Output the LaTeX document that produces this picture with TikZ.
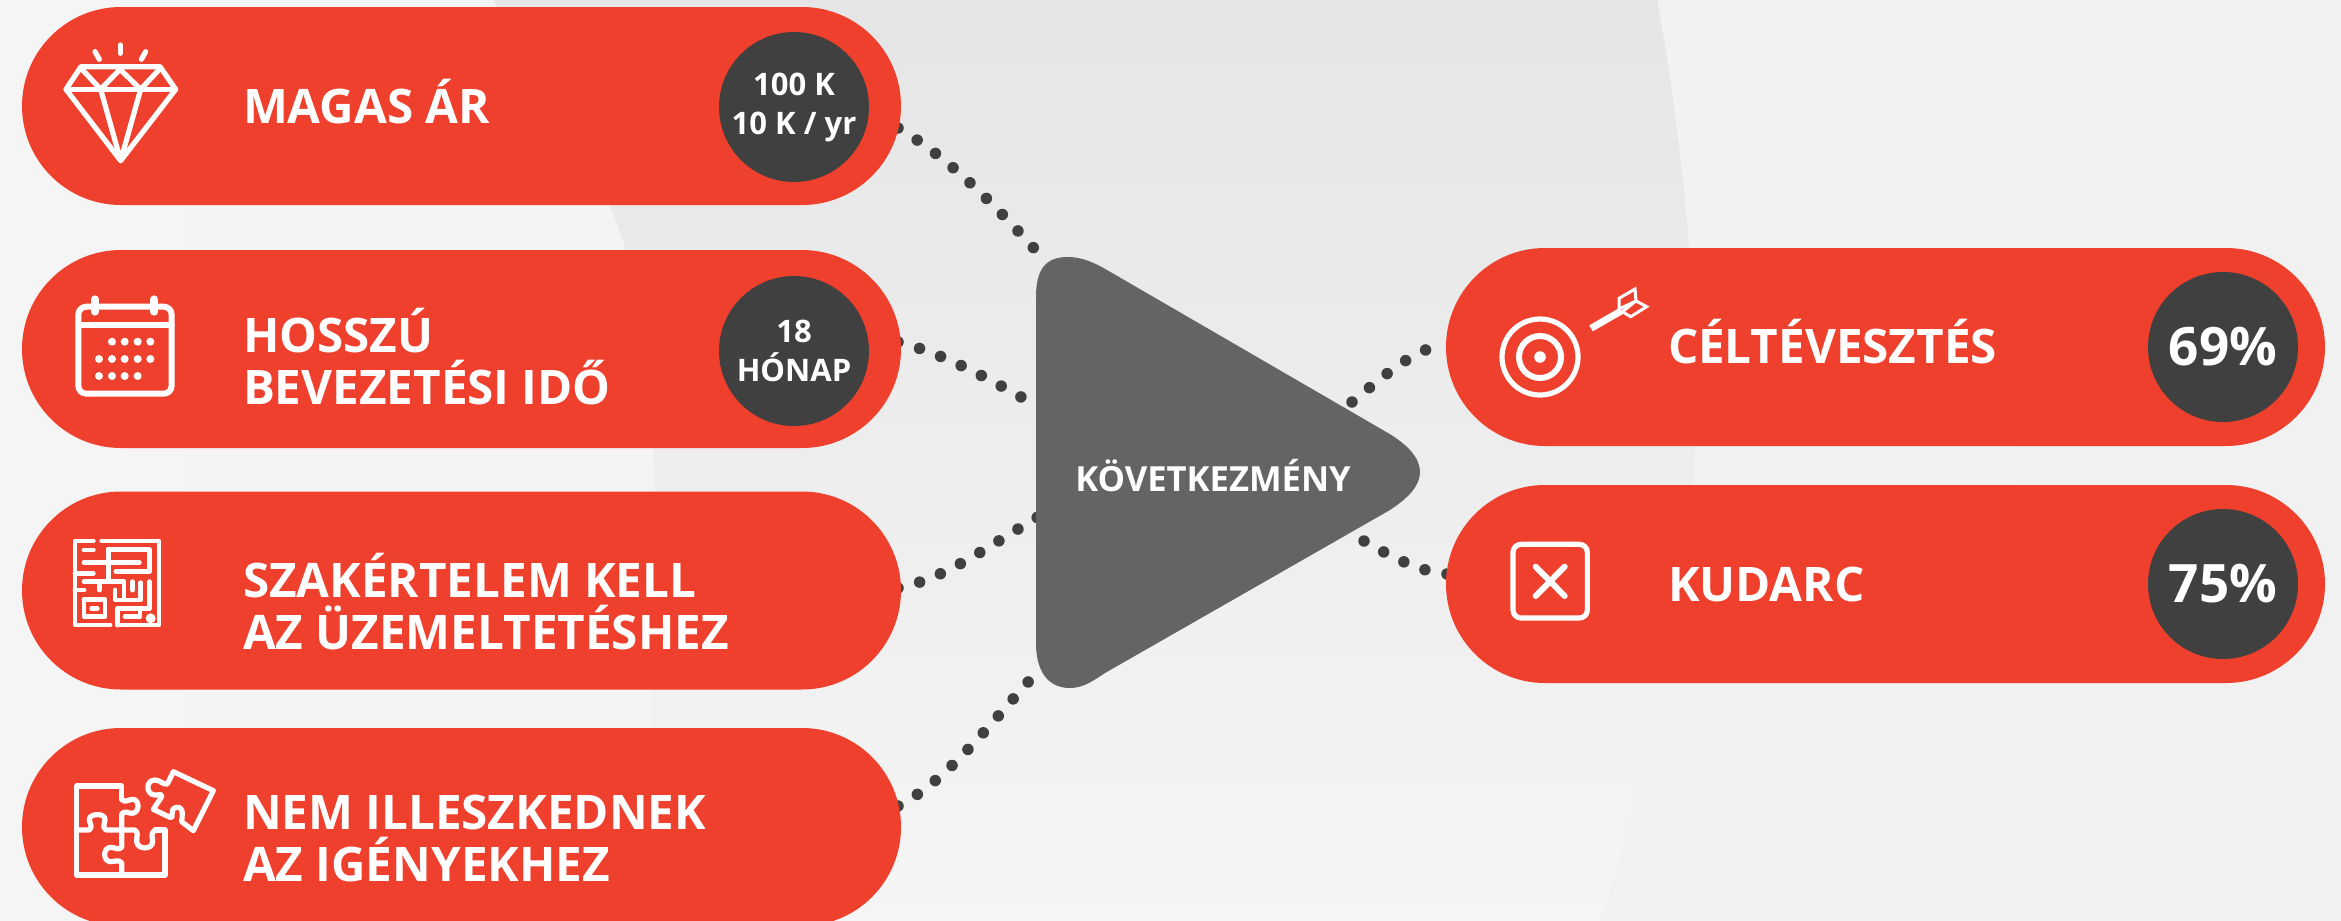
\documentclass[tikz,border=0pt]{standalone}
\usepackage{fontspec}
\setmainfont{Open Sans}
\usetikzlibrary{calc}
\definecolor{pillred}{HTML}{EE402C}
\definecolor{darkdisc}{HTML}{404040}
\definecolor{trigrey}{HTML}{636466}
\pgfdeclarelayer{backdrop}
\pgfdeclarelayer{links}
\pgfsetlayers{backdrop,links,main}
\tikzset{
  pill/.style={fill=pillred,rounded corners=49.5pt,minimum width=439.5pt,minimum height=99pt,inner sep=0pt,outer sep=0pt},
  disc/.style={circle,fill=darkdisc,text=white,minimum size=75pt,inner sep=0pt,outer sep=0pt,font=\bfseries\fontsize{15.5}{19.5}\selectfont,align=center},
  bigdisc/.style={disc,font=\bfseries\fontsize{26.5}{30}\selectfont},
  lab/.style={text=white,inner sep=0pt,outer sep=0pt,align=left,font=\bfseries\fontsize{23.8}{26}\selectfont},
  dotlink/.style={line width=5.75pt,line cap=round,draw=darkdisc,dash pattern=on 0pt off #1},
  ico/.style={draw=white,line width=2.6pt,line cap=round,line join=round,fill=none},
  icon3/.style={x=0.166667pt,y=-0.166667pt}
}
\begin{document}
\begin{tikzpicture}[x=0.5pt,y=-0.5pt]
\useasboundingbox (0,0) rectangle (2341,921);
% triangle
\fill[trigrey] (1036,297) .. controls (1036,270) and (1045,257) .. (1068,257) .. controls (1082,257) and (1095,263) .. (1107,270) -- (1388,433) .. controls (1408,445) and (1420,458) .. (1420,472) .. controls (1420,486) and (1408,498) .. (1390,510) -- (1105,673) .. controls (1093,681) and (1083,688) .. (1070,688) .. controls (1047,688) and (1036,670) .. (1036,643) -- cycle;
\node[text=white,inner sep=0pt,font=\bfseries\fontsize{17.3}{20}\selectfont] (tri) at (1213,476) {KÖVETKEZMÉNY};
% pills
\node[pill] (p1) at (461.5,106) {};
\node[pill] (p2) at (461.5,349) {};
\node[pill] (p3) at (461.5,590.5) {};
\node[pill] (p4) at (461.5,827) {};
\node[pill] (q1) at (1885.5,347) {};
\node[pill] (q2) at (1885.5,584) {};
% discs
\node[disc] (d1) at (794,107) {100 K\\10 K / yr};
\node[disc] (d2) at (794,351) {18\\HÓNAP};
\node[bigdisc] (d3) at (2223,347) {69\%};
\node[bigdisc] (d4) at (2223,584) {75\%};
% labels
\node[lab,anchor=base west] (l1) at (243,123) {MAGAS ÁR};
\node[lab,anchor=west] (l2) at (243,357) {HOSSZÚ\\BEVEZETÉSI IDŐ};
\node[lab,anchor=west] (l3) at (243,602) {SZAKÉRTELEM KELL\\AZ ÜZEMELTETÉSHEZ};
\node[lab,anchor=west] (l4) at (243,838) {NEM ILLESZKEDNEK\\AZ IGÉNYEKHEZ};
\node[lab,anchor=base west] (l5) at (1668,363) {CÉLTÉVESZTÉS};
\node[lab,anchor=base west] (l6) at (1668,601) {KUDARC};
% background and connectors
\begin{pgfonlayer}{backdrop}
\shade[left color=black!4,right color=black!5.5] (0,0) rectangle (2341,921);
\shade[top color=black!10,middle color=black!8,bottom color=black!4] (493,0) .. controls (560,100) and (615,190) .. (640,300) .. controls (660,400) and (660,600) .. (640,921) -- (1600,921) .. controls (1640,800) and (1697,560) .. (1697,400) .. controls (1697,300) and (1680,120) .. (1657,0) -- cycle;
\end{pgfonlayer}
\begin{pgfonlayer}{links}
\draw[dotlink=11.33pt] ($(p1.east)+(-3,22)$) .. controls ($(p1.east)+(49,52)$) and ($(tri.center)+(-213,-266)$) .. ($(tri.center)+(-165,-212)$);
\draw[dotlink=11.25pt] ($(p2.east)+(-3,-7)$) .. controls ($(p2.east)+(37,3)$) and ($(tri.center)+(-233,-102)$) .. ($(tri.center)+(-192,-79)$);
\draw[dotlink=11.2pt] ($(p3.east)+(-3,-2.5)$) .. controls ($(p3.east)+(44,-11.5)$) and ($(tri.center)+(-223,69)$) .. ($(tri.center)+(-175,41)$);
\draw[dotlink=11.3pt] ($(p4.east)+(-3,-21)$) .. controls ($(p4.east)+(44,-45)$) and ($(tri.center)+(-228,254)$) .. ($(tri.center)+(-184,205)$);
\draw[dotlink=11.3pt] ($(tri.center)+(139,-74)$) .. controls ($(tri.center)+(172,-101)$) and ($(q1.west)+(-31,1)$) .. ($(q1.west)+(1,-3)$);
\draw[dotlink=11.25pt] ($(tri.center)+(151,65)$) .. controls ($(tri.center)+(179,81)$) and ($(q2.west)+(-26,-12)$) .. ($(q2.west)+(1,-10)$);
\end{pgfonlayer}
% diamond icon
\begin{scope}[shift={(0,0)},icon3]
\draw[ico] (243,200) -- (480,200) -- (527,268) -- (362,482) -- (198,268) -- cycle;
\draw[ico] (198,268) -- (527,268);
\draw[ico] (246,208) -- (302,268) -- (360,208) -- (422,268) -- (478,208);
\draw[ico] (302,268) -- (362,482) -- (422,268);
\draw[ico] (285,155) -- (298,178);
\draw[ico] (361,135) -- (361,160);
\draw[ico] (437,155) -- (424,178);
\end{scope}
% calendar icon
\begin{scope}[shift={(0,0)},icon3]
\draw[ico,line width=3pt,rounded corners=4pt] (235,920) rectangle (515,1181);
\draw[ico,line width=3pt] (235,974) -- (515,974);
\draw[ico,line width=4pt] (285,898) -- (285,935);
\draw[ico,line width=4pt] (463,898) -- (463,935);
\foreach \px/\py in {336/1025,374/1025,413/1025,451/1025,297/1077,336/1077,374/1077,413/1077,451/1077,297/1128,336/1128,374/1128,413/1128}
  \fill[white] (\px,\py) circle[radius=2pt];
\end{scope}
% maze icon
\begin{scope}[shift={(60,510)},icon3]
\tikzset{mz/.style={draw=white,line width=2.4pt,line cap=round,line join=round}}
\draw[mz] (100,93) -- (45,93) -- (45,345) -- (150,345);
\draw[mz] (125,93) -- (297,93) -- (297,345) -- (172,345);
\draw[mz] (72,120) -- (100,120);
\draw[mz] (72,158) -- (238,158);
\draw[mz] (145,118) -- (268,118) -- (268,185) -- (168,185);
\draw[mz] (45,190) -- (100,190);
\draw[mz] (145,118) -- (145,215);
\draw[mz] (72,215) -- (192,215) -- (192,268);
\draw[mz] (45,240) -- (72,240);
\draw[mz] (72,268) -- (72,320) -- (135,320) -- (135,268) -- (72,268);
\draw[mz] (95,295) -- (112,295);
\draw[mz] (118,215) -- (118,240);
\draw[mz] (218,215) -- (218,240);
\draw[mz] (242,218) -- (242,270) -- (165,270) -- (165,240);
\draw[mz] (268,215) -- (268,295) -- (172,295) -- (172,345);
\draw[mz] (195,320) -- (240,320) -- (240,300);
\fill[white] (272,325) circle[radius=2.5pt];
\end{scope}
% puzzle icon
\begin{scope}[shift={(60,760)},icon3]
\draw[ico,line width=2.6pt] (185,118) -- (185,78) -- (50,78) -- (50,345) -- (315,345) -- (315,210) -- (285,210);
\draw[ico,line width=2.6pt] (185,118) .. controls (195,130) and (205,118) .. (218,118) .. controls (240,118) and (240,160) .. (215,160) .. controls (205,160) and (195,150) .. (185,162) -- (185,262) .. controls (175,272) and (165,262) .. (152,262) .. controls (128,262) and (128,305) .. (152,305) .. controls (165,305) and (175,298) .. (185,308) -- (185,345);
\draw[ico,line width=2.6pt] (50,210) -- (88,210) .. controls (100,200) and (88,190) .. (88,178) .. controls (88,160) and (135,158) .. (135,178) .. controls (135,190) and (125,200) .. (138,210) -- (225,210) .. controls (238,220) and (228,230) .. (230,245) .. controls (232,270) and (278,270) .. (278,245) .. controls (278,230) and (270,222) .. (285,210);
\draw[ico,line width=2.6pt] (340,35) -- (322,72) .. controls (310,75) and (300,60) .. (285,60) .. controls (255,60) and (258,105) .. (285,105) .. controls (300,105) and (305,100) .. (305,110) -- (280,148) -- (330,172) .. controls (345,180) and (325,145) .. (350,142) .. controls (375,140) and (365,175) .. (365,185) -- (400,212) -- (460,92) -- cycle;
\end{scope}
% target icon
\begin{scope}[shift={(1420,240)},icon3]
\draw[ico] (360,351) circle[radius=19pt];
\draw[ico,line width=3pt] (360,351) circle[radius=10.5pt];
\fill[white] (360,351) circle[radius=2.9pt];
\draw[draw=white,line width=3.5pt] (513,265) -- (605,212);
\draw[draw=white,line width=1.5pt,line join=miter] (597,207) -- (597,175) -- (645,147) -- (648,183) -- cycle;
\draw[draw=white,line width=1.5pt,line join=miter] (607,215) -- (632,230) -- (680,200) -- (648,183) -- cycle;
\end{scope}
% cross box icon
\begin{scope}[shift={(1420,240)},icon3]
\draw[ico,rounded corners=4pt] (279,913) rectangle (502,1134);
\draw[ico,line width=3pt] (347,980) -- (434,1068);
\draw[ico,line width=3pt] (434,980) -- (347,1068);
\end{scope}
\end{tikzpicture}
\end{document}
